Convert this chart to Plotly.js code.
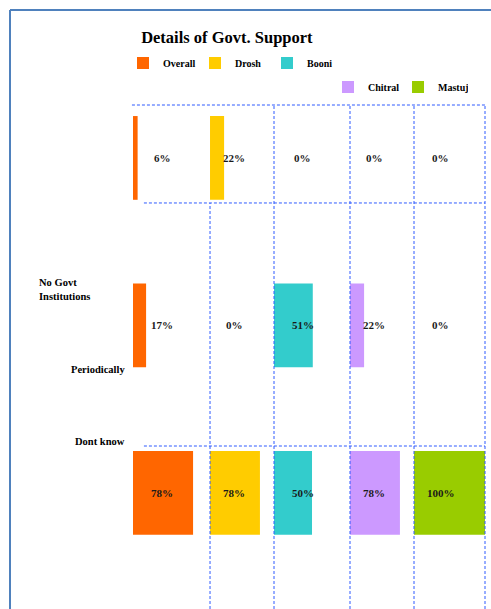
<!DOCTYPE html>
<html>
<head>
<meta charset="utf-8">
<script src="https://cdn.plot.ly/plotly-3.0.1.min.js"></script>
<style>html,body{margin:0;padding:0;background:#fff;}#chart{width:491px;height:609px;}</style>
</head>
<body>
<div id="chart"></div>
<script>
// ---- data ----
const categories = ["No Govt Institutions", "Periodically", "Dont know"];
const categoryLabels = ["No Govt<br>Institutions", "Periodically", "Dont know"];
const seriesNames = ["Overall", "Drosh", "Booni", "Chitral", "Mastuj"];
const overall = [6, 17, 78];
const drosh = [22, 0, 78];
const booni = [0, 51, 50];
const chitral = [0, 22, 78];
const mastuj = [0, 0, 100];
const seriesValues = [overall, drosh, booni, chitral, mastuj];

// ---- styling ----
const colors = ["#FF6600", "#FFCC00", "#33CCCC", "#CC99FF", "#99CC00"];
const FONT = "Liberation Serif, DejaVu Serif, serif";
const GRID = "#2F5BFF";
// column domains (paper fractions) for the five panels
const domains = [[0, 0.2188], [0.2188, 0.4006], [0.4006, 0.6165], [0.6165, 0.7983], [0.7983, 1]];
const labelX = 38;

const traces = [];
const layout = {
  width: 491, height: 609,
  margin: {l: 133, r: 6, t: 105, b: 0},
  paper_bgcolor: "#fff", plot_bgcolor: "rgba(0,0,0,0)",
  font: {family: FONT, size: 10, color: "#000"},
  title: {text: "<b>Details of Govt. Support</b>", font: {family: FONT, size: 16.5, color: "#000"},
          xref: "container", x: 0.462, xanchor: "center", yref: "container", y: 0.939, yanchor: "middle"},
  bargap: 0.5,
  showlegend: true,
  legend: {orientation: "h", x: -0.0284, xanchor: "left", y: 1.0 + (105 - 63) / 504, yanchor: "middle",
           entrywidth: 27, entrywidthmode: "pixels", font: {family: FONT, size: 10, color: "#000"},
           bgcolor: "rgba(0,0,0,0)", itemclick: false},
  legend2: {orientation: "h", x: 0.554, xanchor: "left", y: 1.0 + (105 - 87) / 504, yanchor: "middle",
            entrywidth: 25, entrywidthmode: "pixels", font: {family: FONT, size: 10, color: "#000"},
            bgcolor: "rgba(0,0,0,0)", itemclick: false},
  yaxis: {type: "category", categoryorder: "array", categoryarray: categories,
          range: [2.693, -0.316], showticklabels: false, showgrid: false, zeroline: false,
          showline: false, ticks: "", fixedrange: true},
  annotations: [],
  shapes: []
};

seriesNames.forEach((name, i) => {
  const xa = i === 0 ? "x" : "x" + (i + 1);
  const key = i === 0 ? "xaxis" : "xaxis" + (i + 1);
  layout[key] = {domain: domains[i], range: [0, 100], showticklabels: false, showgrid: false,
                 zeroline: false, showline: false, ticks: "", fixedrange: true, anchor: "y"};
  traces.push({
    type: "bar", orientation: "h", name: "<b>" + name + "</b>",
    x: seriesValues[i], y: categories, xaxis: xa, yaxis: "y",
    marker: {color: colors[i], line: {width: 0}},
    legend: i < 3 ? "legend" : "legend2",
    hoverinfo: "x+y"
  });
  seriesValues[i].forEach((v, j) => {
    layout.annotations.push({xref: xa, yref: "y", x: labelX, y: j, text: "<b>" + v + "%</b>",
      showarrow: false, font: {family: FONT, size: 11, color: "#1a1a1a"}, xanchor: "center", yanchor: "middle"});
  });
});

// category labels
const catPos = [{x: -0.2727, y: 0.633, xa: "left", al: "left"},
                {x: -0.017, y: 0.476, xa: "right", al: "right"},
                {x: -0.017, y: 0.333, xa: "right", al: "right"}];
categoryLabels.forEach((t, j) => {
  layout.annotations.push({xref: "paper", yref: "paper", x: catPos[j].x, y: catPos[j].y,
    xanchor: catPos[j].xa, align: catPos[j].al, yanchor: "middle", text: "<b>" + t + "</b>",
    showarrow: false, font: {family: FONT, size: 10.5, color: "#000"}});
});

// dashed grid lines
const dash = {color: GRID, width: 1, dash: "3px,2px"};
[[-0.003, 1.0], [0.031, 0.8056], [0.031, 0.3234]].forEach(([x0, y]) => {
  layout.shapes.push({type: "line", xref: "paper", yref: "paper", x0: x0, x1: 1.0, y0: y, y1: y, line: dash, layer: "above"});
});
[[0.2188, 0.8056], [0.4006, 1.0], [0.6165, 1.0], [0.7983, 1.0], [1.0, 1.0]].forEach(([x, top]) => {
  layout.shapes.push({type: "line", xref: "paper", yref: "paper", x0: x, x1: x, y0: 0, y1: top, line: dash, layer: "above"});
});
// outer frame (blue border of the embedded chart)
const frame = {color: "#4F81BD", width: 2};
layout.shapes.push({type: "line", xref: "paper", yref: "paper", x0: (10 - 133) / 352, x1: (10 - 133) / 352, y0: 0, y1: (609 - 10) / 504, line: frame});
layout.shapes.push({type: "line", xref: "paper", yref: "paper", x0: (10 - 133) / 352, x1: (492 - 133) / 352, y0: (609 - 10) / 504, y1: (609 - 10) / 504, line: frame});

Plotly.newPlot("chart", traces, layout, {displayModeBar: false, staticPlot: true});
</script>
</body>
</html>
